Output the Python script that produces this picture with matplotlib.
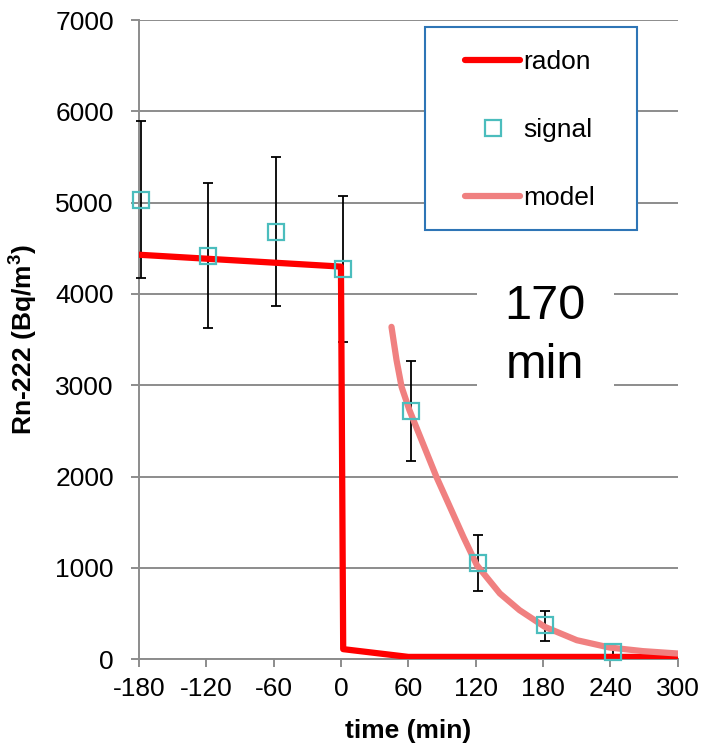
import matplotlib.pyplot as plt
from matplotlib.patches import Rectangle

plt.rcParams['font.family'] = ['Liberation Sans', 'DejaVu Sans']
plt.rcParams['axes.unicode_minus'] = False

# radon concentration (line)
radon_t = [-180, 0, 2, 60, 300]
radon_v = [4430, 4300, 110, 25, 25]

# measured signal with error bars
sig_t = [-178, -118, -58, 2, 62, 122, 182, 242]
sig_v = [5030, 4420, 4680, 4270, 2716, 1051, 372, 77]
sig_hi = [5900, 5220, 5500, 5070, 3261, 1355, 529, 125]
sig_lo = [4170, 3630, 3870, 3470, 2172, 745, 200, 15]

# fitted model curve
model_t = [45, 49.5, 54, 61, 73, 85, 97, 109, 121, 141.5, 159, 181.5, 210, 239, 269, 300]
model_v = [3640, 3275, 2982, 2727, 2362, 1997, 1669, 1340, 1030, 720, 537, 354, 208, 128, 88, 62]

err_lo = [v - lo for v, lo in zip(sig_v, sig_lo)]
err_hi = [hi - v for v, hi in zip(sig_v, sig_hi)]

fig = plt.figure(figsize=(7.01, 7.44), dpi=100)
ax = fig.add_axes([0.198, 0.114, 0.769, 0.859])

ax.errorbar(sig_t, sig_v, yerr=[err_lo, err_hi], fmt='none', ecolor='black',
            elinewidth=1.3, capsize=3.5, capthick=1.3, zorder=3, clip_on=False)
ax.plot(radon_t, radon_v, color='#FF0000', lw=4.5, label='radon', zorder=4,
        solid_capstyle='round', solid_joinstyle='round')
ax.plot(sig_t, sig_v, ls='none', marker='s', ms=11, mfc='none', mec='#4BBDBD',
        mew=1.6, label='signal', zorder=6, clip_on=False)
ax.plot(model_t, model_v, color='#F08080', lw=4.5, label='model', zorder=5,
        solid_capstyle='round', solid_joinstyle='round')

ax.set_xlim(-180, 300)
ax.set_ylim(0, 7000)
ax.set_xticks(range(-180, 301, 60))
ax.set_yticks(range(0, 7001, 1000))
ax.yaxis.grid(True, color='#8C8C8C', lw=1.4)
ax.set_axisbelow(True)
for s in ['top', 'right']:
    ax.spines[s].set_visible(False)
for s in ['left', 'bottom']:
    ax.spines[s].set_color('#8C8C8C')
    ax.spines[s].set_linewidth(1.4)
ax.tick_params(axis='both', length=6, width=1.4, color='#8C8C8C', labelsize=19)
ax.tick_params(axis='y', pad=12)
ax.tick_params(axis='x', pad=7)

ax.set_xlabel('time (min)', fontsize=19, fontweight='bold', labelpad=13)
ax.set_ylabel('Rn-222 (Bq/m$^\\mathregular{3}$)', fontsize=19,
              fontweight='bold', labelpad=12)

ax.text(182, 3540, '170\nmin', fontsize=35, ha='center', va='center',
        linespacing=1.38, zorder=7,
        bbox=dict(facecolor='white', edgecolor='none', pad=20))

# legend frame drawn separately to get the wide left margin
ax.add_patch(Rectangle((0.531, 0.671), 0.393, 0.318, transform=ax.transAxes,
                       facecolor='white', edgecolor='#2E75B6', lw=1.5,
                       zorder=9))
leg = ax.legend(loc='upper left', bbox_to_anchor=(0.605, 0.953),
                fontsize=19, frameon=False, labelspacing=1.67,
                handlelength=2.1, handletextpad=0.1,
                borderpad=0, borderaxespad=0)
leg.set_zorder(10)

fig.savefig('out.png', dpi=100)
